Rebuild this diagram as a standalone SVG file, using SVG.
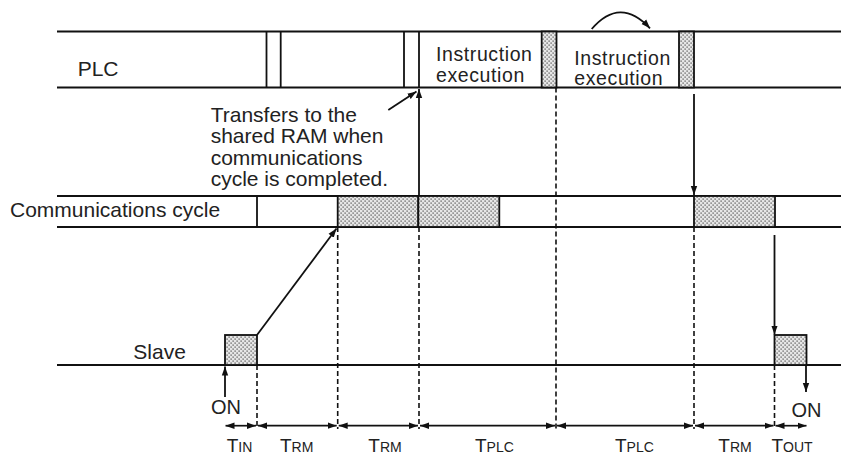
<svg xmlns="http://www.w3.org/2000/svg" width="841" height="455" viewBox="0 0 841 455">
<style>
text{font-family:"Liberation Sans",Arial,sans-serif;fill:#222;}
.t{font-size:21px;}
.ie{font-size:19.5px;letter-spacing:0.6px;}
.on{font-size:20px;}
.big{font-size:19px;}
.sm{font-size:14px;}
.ln{stroke:#111;stroke-width:1.8;fill:none;}
.dv{stroke:#111;stroke-width:1.8;}
.ds{stroke:#111;stroke-width:1.6;stroke-dasharray:5,3;fill:none;}
.ar{stroke:#111;stroke-width:1.8;fill:none;marker-end:url(#ah);}
.dim{stroke:#111;stroke-width:1.7;fill:none;marker-start:url(#ahs);marker-end:url(#ah);}
.h{fill:url(#dots);stroke:#111;stroke-width:1.8;}
</style>
<defs>
<pattern id="dots" width="4" height="4" patternUnits="userSpaceOnUse">
<rect width="4" height="4" fill="#e6e6e6"/>
<rect x="0.5" y="0.5" width="1.2" height="1.2" fill="#444"/>
<rect x="2.5" y="2.5" width="1.2" height="1.2" fill="#444"/>
</pattern>
<marker id="ah" markerUnits="userSpaceOnUse" markerWidth="10" markerHeight="8" refX="9" refY="4" orient="auto">
<path d="M0,0.8 L9,4 L0,7.2 Z" fill="#111"/>
</marker>
<marker id="ahs" markerUnits="userSpaceOnUse" markerWidth="10" markerHeight="8" refX="0" refY="4" orient="auto">
<path d="M9,0.8 L0,4 L9,7.2 Z" fill="#111"/>
</marker>
</defs>

<g id="plc-row">
<line class="ln" x1="57" y1="31.5" x2="841" y2="31.5"/>
<line class="ln" x1="57" y1="87.5" x2="841" y2="87.5"/>
<line class="dv" x1="266.5" y1="31.5" x2="266.5" y2="87.5"/>
<line class="dv" x1="280.7" y1="31.5" x2="280.7" y2="87.5"/>
<line class="dv" x1="404" y1="31.5" x2="404" y2="87.5"/>
<line class="dv" x1="419" y1="31.5" x2="419" y2="87.5"/>
<rect class="h" x="541.7" y="31.5" width="14.8" height="56"/>
<rect class="h" x="679" y="31.5" width="15" height="56"/>
<text class="t" x="77.7" y="76">PLC</text>
<text class="ie" x="436" y="61">Instruction</text>
<text class="ie" x="436" y="81.5">execution</text>
<text class="ie" x="574.3" y="64.5">Instruction</text>
<text class="ie" x="574.3" y="85">execution</text>
</g>

<g id="comm-row">
<line class="ln" x1="57" y1="196" x2="841" y2="196"/>
<line class="ln" x1="57" y1="227" x2="841" y2="227"/>
<line class="dv" x1="257" y1="196" x2="257" y2="227"/>
<rect class="h" x="337.7" y="196" width="80.6" height="31"/>
<rect class="h" x="418.3" y="196" width="81" height="31"/>
<rect class="h" x="694" y="196" width="81" height="31"/>
<text class="t" x="10" y="217.3">Communications cycle</text>
</g>

<g id="slave-row">
<line class="ln" x1="57" y1="365" x2="841" y2="365"/>
<rect class="h" x="225" y="335" width="32" height="30"/>
<rect class="h" x="774.5" y="335" width="32" height="30"/>
<text class="t" x="133.3" y="359.3">Slave</text>
</g>

<g id="note">
<text class="t" x="210.7" y="121.7">Transfers to the</text>
<text class="t" x="210.7" y="143.2">shared RAM when</text>
<text class="t" x="210.7" y="164.7">communications</text>
<text class="t" x="210.7" y="186.2">cycle is completed.</text>
</g>

<g id="on-labels">
<text class="on" x="211" y="414.3">ON</text>
<text class="on" x="791.5" y="416.7">ON</text>
</g>

<g id="time-labels">
<text x="226.7" y="451.7"><tspan class="big">T</tspan><tspan class="sm">IN</tspan></text>
<text x="280" y="451.7"><tspan class="big">T</tspan><tspan class="sm">RM</tspan></text>
<text x="368.3" y="451.7"><tspan class="big">T</tspan><tspan class="sm">RM</tspan></text>
<text x="475" y="451.7"><tspan class="big">T</tspan><tspan class="sm">PLC</tspan></text>
<text x="615" y="451.7"><tspan class="big">T</tspan><tspan class="sm">PLC</tspan></text>
<text x="718.3" y="451.7"><tspan class="big">T</tspan><tspan class="sm">RM</tspan></text>
<text x="771.5" y="451.7"><tspan class="big">T</tspan><tspan class="sm">OUT</tspan></text>
</g>

<g id="connectors">
<line class="ds" x1="257" y1="365" x2="257" y2="429"/>
<line class="ds" x1="337.7" y1="227" x2="337.7" y2="429"/>
<line class="ds" x1="419" y1="227" x2="419" y2="429"/>
<line class="ds" x1="556" y1="87.5" x2="556" y2="429"/>
<line class="ds" x1="694" y1="227" x2="694" y2="429"/>
<line class="ds" x1="774.5" y1="365" x2="774.5" y2="429"/>

<line class="ar" x1="257" y1="335" x2="336.5" y2="228.5"/>
<line class="ar" x1="419" y1="196" x2="419" y2="89"/>
<line class="ar" x1="388.3" y1="110" x2="416.5" y2="91.5"/>
<line class="ar" x1="694" y1="94" x2="694" y2="195"/>
<line class="ar" x1="774.5" y1="235" x2="774.5" y2="334.5"/>
<line class="ar" x1="225" y1="397" x2="225" y2="366.5"/>
<line class="ar" x1="806" y1="366" x2="806" y2="392"/>
<path class="ar" d="M591.7,29 Q620,-4 650,28.3"/>

<line class="dim" x1="225.5" y1="425.7" x2="256" y2="425.7"/>
<line class="dim" x1="258" y1="425.7" x2="336.7" y2="425.7"/>
<line class="dim" x1="338.7" y1="425.7" x2="418" y2="425.7"/>
<line class="dim" x1="420" y1="425.7" x2="555" y2="425.7"/>
<line class="dim" x1="557" y1="425.7" x2="693" y2="425.7"/>
<line class="dim" x1="695" y1="425.7" x2="773.5" y2="425.7"/>
<line class="dim" x1="775.5" y1="425.7" x2="806.5" y2="425.7"/>
</g>
</svg>
